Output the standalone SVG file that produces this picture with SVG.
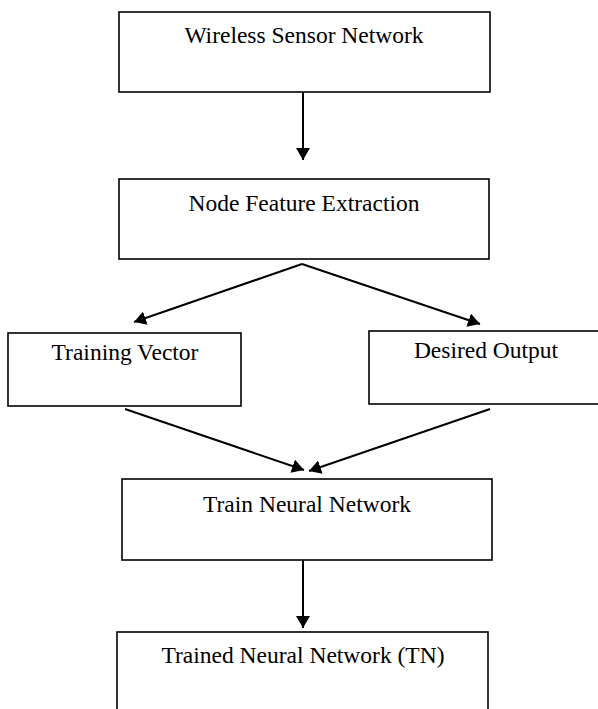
<svg xmlns="http://www.w3.org/2000/svg" width="598" height="709" viewBox="0 0 598 709">
<style>
.box{fill:#fff;stroke:#000;stroke-width:1.6}
.lbl{font-family:"Liberation Serif","Times New Roman",serif;font-size:23.5px;fill:#000;text-anchor:middle}
.con{stroke:#000;stroke-width:2;fill:none}
</style>
<defs>
<marker id="ah" viewBox="0 0 12 14" refX="12" refY="7" markerWidth="12" markerHeight="14" markerUnits="userSpaceOnUse" orient="auto">
<path d="M0,0 L12,7 L0,14 Z" fill="#000"/>
</marker>
</defs>
<rect width="598" height="709" fill="#fff"/>
<g id="connectors">
<line class="con" x1="303" y1="92" x2="303" y2="160" marker-end="url(#ah)"/>
<line class="con" x1="302" y1="264" x2="134" y2="322" marker-end="url(#ah)"/>
<line class="con" x1="302" y1="264" x2="480" y2="324" marker-end="url(#ah)"/>
<line class="con" x1="125" y1="409" x2="304" y2="470" marker-end="url(#ah)"/>
<line class="con" x1="490" y1="409" x2="309" y2="471" marker-end="url(#ah)"/>
<line class="con" x1="303" y1="560" x2="303" y2="628" marker-end="url(#ah)"/>
</g>
<g id="wsn">
<rect class="box" x="119" y="12" width="371" height="80"/>
<text class="lbl" x="304" y="43">Wireless Sensor Network</text>
</g>
<g id="nfe">
<rect class="box" x="119" y="179" width="370" height="80"/>
<text class="lbl" x="304" y="211">Node Feature Extraction</text>
</g>
<g id="tv">
<rect class="box" x="8" y="333" width="233" height="73"/>
<text class="lbl" x="125" y="360">Training Vector</text>
</g>
<g id="do">
<rect class="box" x="369" y="331" width="240" height="73"/>
<text class="lbl" x="486" y="358">Desired Output</text>
</g>
<g id="tnn">
<rect class="box" x="122" y="479" width="370" height="81"/>
<text class="lbl" x="307" y="512">Train Neural Network</text>
</g>
<g id="trained">
<rect class="box" x="117" y="632" width="371" height="90"/>
<text class="lbl" x="303" y="663">Trained Neural Network (TN)</text>
</g>
</svg>
